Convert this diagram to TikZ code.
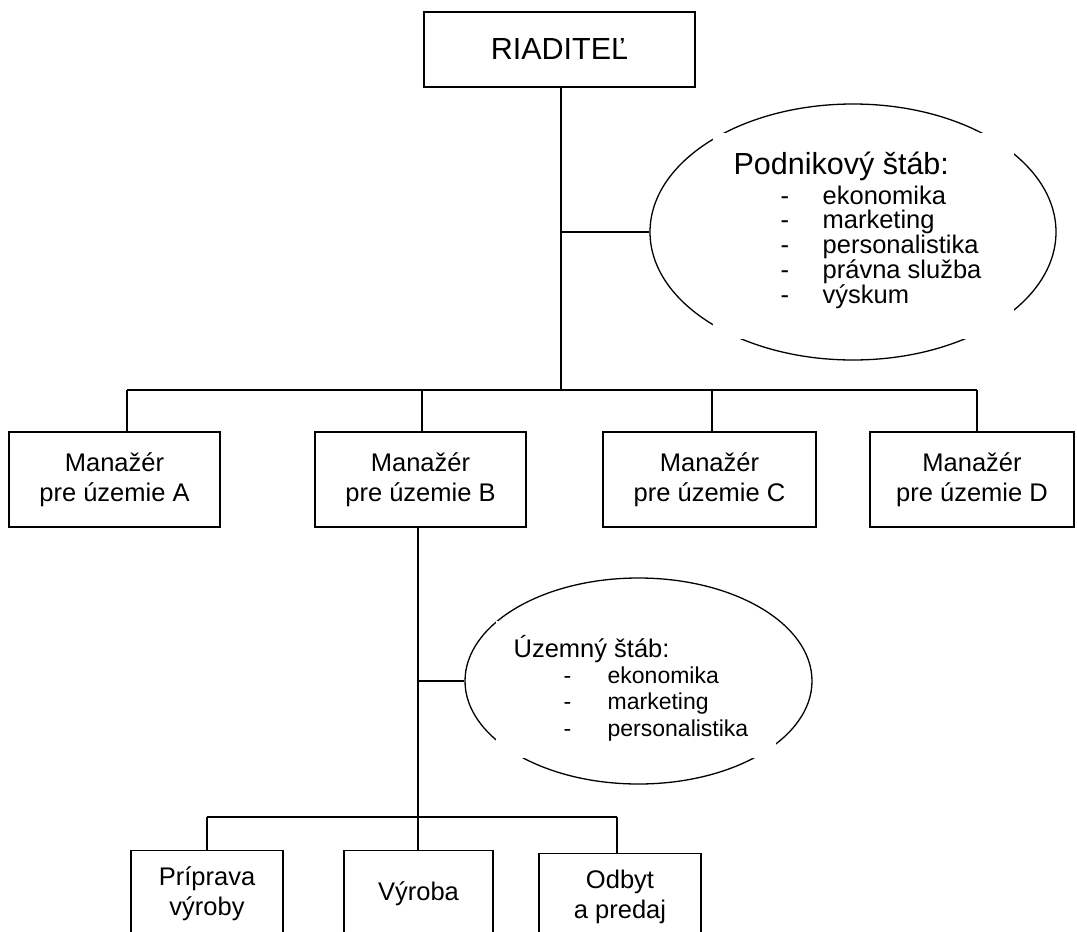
\documentclass[tikz,border=0pt]{standalone}
\usepackage{fontspec}
\setmainfont{Liberation Sans}
\usetikzlibrary{shapes.geometric}
\begin{document}
\begin{tikzpicture}[x=1pt,y=-1pt,
  line width=1.3pt,
  box/.style={draw, line width=1.4pt, inner sep=0, align=center,
    font=\fontsize{25.5}{30}\selectfont},
  mgr/.style={box, minimum height=95},
  dept/.style={box, anchor=north, minimum height=86},
  staff/.style={draw, ellipse, inner sep=0, line width=1.3pt},
  textbox/.style={fill=white, inner sep=0, anchor=north west},
  title/.style={anchor=base west, inner sep=0},
  item/.style={anchor=base west, inner sep=0}
]
% page area
\clip (0,0) rectangle (1077,932);
\fill[white] (0,0) rectangle (1077,932);

% director
\node[box, minimum width=271, minimum height=75,
      font=\fontsize{30.5}{36}\selectfont] (dir) at (559.5,49.5) {RIADITEĽ};

% regional managers
\node[mgr, minimum width=211] (mA) at (114.5,479.5) {Manažér\\pre územie A};
\node[mgr, minimum width=211] (mB) at (420.5,479.5) {Manažér\\pre územie B};
\node[mgr, minimum width=213] (mC) at (709.5,479.5) {Manažér\\pre územie C};
\node[mgr, minimum width=204] (mD) at (972,479.5) {Manažér\\pre územie D};

% departments under manager B (cut off by the page bottom)
\node[dept, minimum width=152] (prip) at (207,850) {Príprava\\výroby};
\node[dept, minimum width=149] (vyr) at (418.5,850) {Výroba};
\node[dept, minimum width=162] (odb) at (620,853) {Odbyt\\a predaj};

% staff ellipses
\node[staff, minimum width=406, minimum height=256] (st1) at (853,232) {};
\node[staff, minimum width=347, minimum height=206] (st2) at (638.5,681) {};

% upper tree
\coordinate (trunk) at (561,390);
\coordinate (busA) at (127,390);
\coordinate (busB) at (422,390);
\coordinate (busC) at (712,390);
\coordinate (busD) at (977,390);
\draw (dir.south -| trunk) -- (trunk);
\draw (trunk |- st1.west) -- (st1.west);
\draw (busA) -- (busD);
\draw (busA) -- (busA |- mA.north);
\draw (busB) -- (busB |- mB.north);
\draw (busC) -- (busC |- mC.north);
\draw (busD) -- (busD |- mD.north);

% lower tree
\coordinate (trunk2) at (418,817);
\coordinate (busP) at (207,817);
\coordinate (busO) at (617,817);
\draw (mB.south -| trunk2) -- (trunk2 |- vyr.north);
\draw (trunk2 |- st2.west) -- (st2.west);
\draw (busP) -- (busO);
\draw (busP) -- (busP |- prip.north);
\draw (busO) -- (busO |- odb.north);

% text areas inside the ellipses
\node[textbox, minimum width=301, minimum height=206] (st1txt) at (712,132) {};
\node[textbox, minimum width=280, minimum height=137] (st2txt) at (495,620) {};

\node[title, font=\fontsize{30.5}{36}\selectfont] (st1head) at (733,174) {Podnikový štáb:};
\foreach \t [count=\i from 0] in {ekonomika, marketing, personalistika, {právna služba}, výskum} {
  \node[item, font=\fontsize{25.5}{30}\selectfont] at (780,{204+24.75*\i}) {-};
  \node[item, font=\fontsize{25.5}{30}\selectfont] at (822,{204+24.75*\i}) {\t};
}

\node[title, font=\fontsize{25.5}{30}\selectfont] (st2head) at (513,657) {Územný štáb:};
\foreach \t [count=\i from 0] in {ekonomika, marketing, personalistika} {
  \node[item, font=\fontsize{23}{27}\selectfont] at (563,{683+26.5*\i}) {-};
  \node[item, font=\fontsize{23}{27}\selectfont] at (607,{683+26.5*\i}) {\t};
}
\end{tikzpicture}
\end{document}
